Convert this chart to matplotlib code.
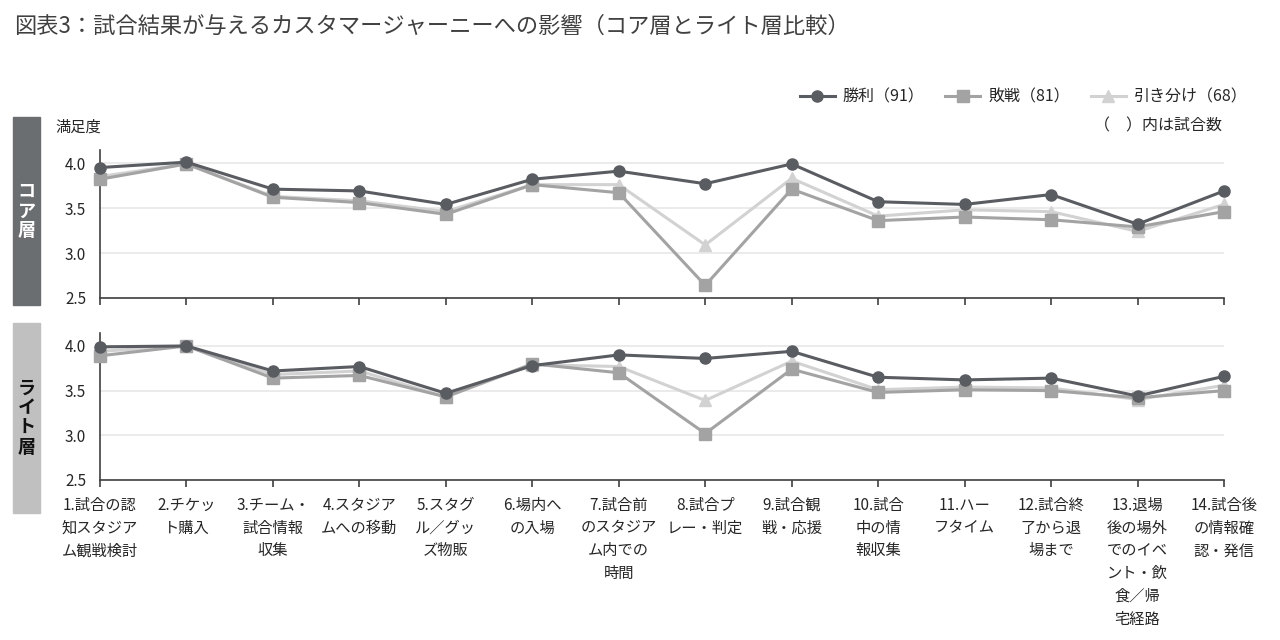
"""図表3: 試合結果が与えるカスタマージャーニーへの影響（コア層とライト層比較）"""
import matplotlib
matplotlib.use("Agg")
import matplotlib.pyplot as plt
from matplotlib.patches import Rectangle

plt.rcParams["font.family"] = ["Noto Sans CJK JP", "DejaVu Sans"]

categories = [
    "1.試合の認\n知スタジア\nム観戦検討",
    "2.チケッ\nト購入",
    "3.チーム・\n試合情報\n収集",
    "4.スタジア\nムへの移動",
    "5.スタグ\nル／グッ\nズ物販",
    "6.場内へ\nの入場",
    "7.試合前\nのスタジア\nム内での\n時間",
    "8.試合プ\nレー・判定",
    "9.試合観\n戦・応援",
    "10.試合\n中の情\n報収集",
    "11.ハー\nフタイム",
    "12.試合終\n了から退\n場まで",
    "13.退場\n後の場外\nでのイベ\nント・飲\n食／帰\n宅経路",
    "14.試合後\nの情報確\n認・発信",
]

series_names = ["勝利（91）", "敗戦（81）", "引き分け（68）"]

# コア層
core_win = [3.95, 4.01, 3.71, 3.69, 3.54, 3.82, 3.91, 3.77, 3.99, 3.57, 3.54, 3.65, 3.32, 3.69]
core_loss = [3.82, 3.99, 3.62, 3.56, 3.43, 3.76, 3.67, 2.64, 3.71, 3.36, 3.40, 3.37, 3.29, 3.46]
core_draw = [3.85, 3.99, 3.63, 3.58, 3.46, 3.76, 3.76, 3.09, 3.83, 3.41, 3.48, 3.46, 3.24, 3.54]

# ライト層
light_win = [3.99, 4.00, 3.72, 3.77, 3.47, 3.78, 3.90, 3.86, 3.94, 3.65, 3.62, 3.64, 3.44, 3.66]
light_loss = [3.89, 4.00, 3.64, 3.67, 3.43, 3.80, 3.70, 3.02, 3.74, 3.48, 3.51, 3.50, 3.42, 3.50]
light_draw = [3.94, 4.00, 3.68, 3.72, 3.43, 3.79, 3.77, 3.39, 3.83, 3.51, 3.54, 3.53, 3.40, 3.56]

yticks = [2.5, 3.0, 3.5, 4.0]

COLORS = ["#595c60", "#a3a3a3", "#d2d2d2"]
MARKERS = ["o", "s", "^"]
TEXT = "#262626"

fig = plt.figure(figsize=(12.8, 6.4), dpi=100)
ax_core = fig.add_axes([100 / 1280, 1 - 298 / 640, 1124 / 1280, 148 / 640])
ax_light = fig.add_axes([100 / 1280, 1 - 480 / 640, 1124 / 1280, 147 / 640])

x = list(range(len(categories)))


def draw_panel(ax, data, show_labels):
    handles = []
    # draw lightest first so the dark win line sits on top
    for i in [2, 1, 0]:
        h, = ax.plot(x, data[i], color=COLORS[i], marker=MARKERS[i], lw=2.2,
                     markersize=8.5 if MARKERS[i] != "o" else 8,
                     markeredgecolor=COLORS[i], clip_on=False, zorder=3 + (2 - i),
                     label=series_names[i])
        handles.append(h)
    ax.set_xlim(0, len(categories) - 1)
    ax.set_ylim(2.5, 4.145)
    ax.set_yticks(yticks)
    ax.set_yticklabels([f"{v:.1f}" for v in yticks], fontsize=11, color=TEXT)
    ax.tick_params(axis="y", length=0, pad=10)
    ax.set_xticks(x)
    if show_labels:
        ax.set_xticklabels(categories, fontsize=11, color=TEXT, linespacing=1.45,
                           va="top")
    else:
        ax.set_xticklabels([])
    ax.tick_params(axis="x", direction="out", length=5, width=1.2, color="#404040", pad=7)
    for side in ["top", "right"]:
        ax.spines[side].set_visible(False)
    for side in ["left", "bottom"]:
        ax.spines[side].set_color("#404040")
        ax.spines[side].set_linewidth(1.2)
    ax.grid(axis="y", color="#e8e8e8", lw=1.2)
    ax.set_axisbelow(True)
    return handles[::-1]


handles = draw_panel(ax_core, [core_win, core_loss, core_draw], False)
draw_panel(ax_light, [light_win, light_loss, light_draw], True)

# side labels
fig.patches.append(Rectangle((13 / 1280, 1 - 305 / 640), 27 / 1280, 188 / 640,
                             transform=fig.transFigure, color="#6b6e70", zorder=0))
fig.text(26.5 / 1280, 1 - 211 / 640, "コ\nア\n層", color="white", fontsize=13,
         fontweight="bold", ha="center", va="center", linespacing=1.05)
fig.patches.append(Rectangle((13 / 1280, 1 - 513 / 640), 27 / 1280, 190 / 640,
                             transform=fig.transFigure, color="#c0c0c0", zorder=0))
fig.text(26.5 / 1280, 1 - 418 / 640, "ラ\nイ\nト\n層", color="#111111", fontsize=13,
         fontweight="bold", ha="center", va="center", linespacing=1.05)

fig.text(14 / 1280, 1 - 26 / 640,
         "図表3：試合結果が与えるカスタマージャーニーへの影響（コア層とライト層比較）",
         fontsize=16, color="#404040", ha="left", va="center")
fig.text(55 / 1280, 1 - 127 / 640, "満足度", fontsize=11, color=TEXT,
         ha="left", va="center")

fig.legend(handles=handles, labels=series_names, loc="center right",
           bbox_to_anchor=(1262 / 1280, 1 - 97 / 640), ncol=3, frameon=False,
           fontsize=11.5, handlelength=2.2, columnspacing=1.3, handletextpad=0.5,
           labelcolor=TEXT)
fig.text(1222 / 1280, 1 - 126 / 640, "（　）内は試合数", fontsize=11.5, color=TEXT,
         ha="right", va="center")

fig.savefig("out.png", dpi=100)
